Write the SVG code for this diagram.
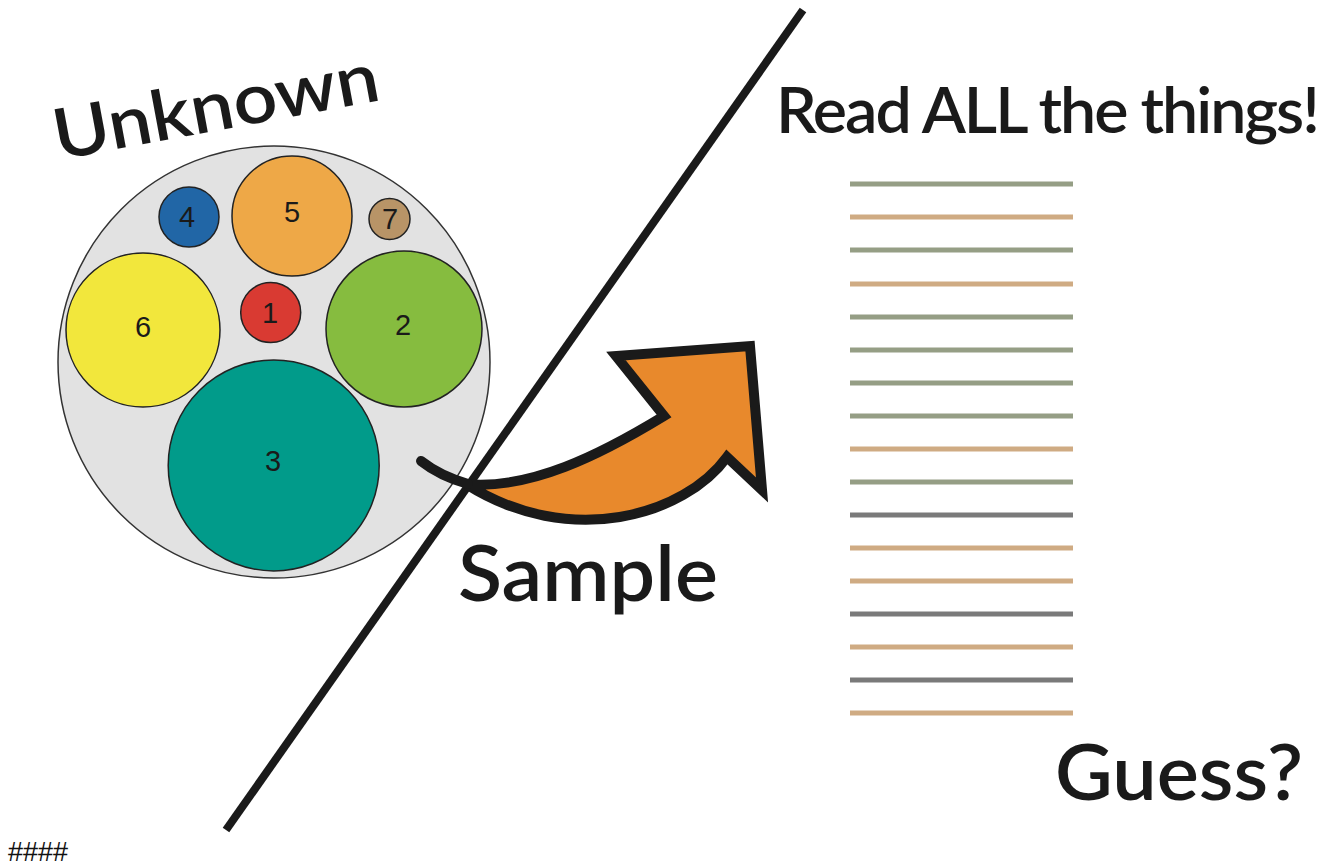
<svg xmlns="http://www.w3.org/2000/svg" width="1340" height="867" viewBox="0 0 1340 867">
<style>
.big{font-family:Lato,"Liberation Sans",sans-serif;font-weight:600;fill:#1a1a1a}
.num{font-family:"Liberation Sans",Arial,sans-serif;font-size:29px;fill:#1a1a1a;text-anchor:middle;dominant-baseline:central}
.sub{stroke:#222;stroke-width:1.5}
.rg{stroke:#959e85;stroke-width:5}
.rt{stroke:#cfab83;stroke-width:5}
.rd{stroke:#7a7a7a;stroke-width:5}
</style>
<rect width="1340" height="867" fill="#fff"/>
<g id="population">
<circle cx="274" cy="362" r="216" fill="#e2e2e2" stroke="#333" stroke-width="1.5"/>
<g id="sp4"><circle class="sub" cx="189" cy="217" r="30" fill="#2166a6"/><text class="num" x="187" y="217">4</text></g>
<g id="sp5"><circle class="sub" cx="292" cy="216" r="60" fill="#eea847"/><text class="num" x="292" y="212">5</text></g>
<g id="sp7"><circle class="sub" cx="389.5" cy="219" r="20.5" fill="#b89467"/><text class="num" x="390" y="219">7</text></g>
<g id="sp6"><circle class="sub" cx="143" cy="330" r="77" fill="#f2e73c"/><text class="num" x="143" y="327">6</text></g>
<g id="sp1"><circle class="sub" cx="270.7" cy="312.5" r="30" fill="#d93a32"/><text class="num" x="270" y="313">1</text></g>
<g id="sp2"><circle class="sub" cx="404" cy="329" r="78" fill="#86bc3f"/><text class="num" x="403" y="325">2</text></g>
<g id="sp3"><circle class="sub" cx="273.7" cy="465.4" r="105.5" fill="#019b8a"/><text class="num" x="273" y="461">3</text></g>
</g>
<g id="unknown-label"><text class="big" x="58" y="160" font-size="70" font-weight="700" textLength="330" lengthAdjust="spacingAndGlyphs" transform="rotate(-10.5 58 160)">Unknown</text></g>
<g id="reads">
<line class="rg" x1="850" y1="184" x2="1073" y2="184"/>
<line class="rt" x1="850" y1="217" x2="1073" y2="217"/>
<line class="rg" x1="850" y1="250" x2="1073" y2="250"/>
<line class="rt" x1="850" y1="284" x2="1073" y2="284"/>
<line class="rg" x1="850" y1="317" x2="1073" y2="317"/>
<line class="rg" x1="850" y1="350" x2="1073" y2="350"/>
<line class="rg" x1="850" y1="383" x2="1073" y2="383"/>
<line class="rg" x1="850" y1="416" x2="1073" y2="416"/>
<line class="rt" x1="850" y1="449" x2="1073" y2="449"/>
<line class="rg" x1="850" y1="482" x2="1073" y2="482"/>
<line class="rd" x1="850" y1="515" x2="1073" y2="515"/>
<line class="rt" x1="850" y1="548" x2="1073" y2="548"/>
<line class="rt" x1="850" y1="581" x2="1073" y2="581"/>
<line class="rd" x1="850" y1="614" x2="1073" y2="614"/>
<line class="rt" x1="850" y1="647" x2="1073" y2="647"/>
<line class="rd" x1="850" y1="680" x2="1073" y2="680"/>
<line class="rt" x1="850" y1="713" x2="1073" y2="713"/>
</g>
<g id="connectors">
<line x1="803" y1="10" x2="226" y2="830" stroke="#1a1a1a" stroke-width="8"/>
<path d="M466,484 C530,490 600,455 664,416 L616,356 L750,346 L762,490 L727,457 C685,515 570,550 466,484 Z" fill="#e8892c" stroke="#1a1a1a" stroke-width="10" stroke-linejoin="miter"/>
<path d="M421,461 Q440,476 468,484" fill="none" stroke="#1a1a1a" stroke-width="10" stroke-linecap="round"/>
</g>
<g id="labels">
<text class="big" x="776" y="133" font-size="64" letter-spacing="-2" textLength="542" lengthAdjust="spacingAndGlyphs">Read ALL the things!</text>
<text class="big" x="458" y="601" font-size="76" textLength="260" lengthAdjust="spacingAndGlyphs">Sample</text>
<text class="big" x="1055" y="800" font-size="76" textLength="248" lengthAdjust="spacingAndGlyphs">Guess?</text>
<text x="8" y="861" font-family="'Liberation Sans',Arial,sans-serif" font-size="27" fill="#111" textLength="60" lengthAdjust="spacingAndGlyphs">####</text>
</g>
</svg>
